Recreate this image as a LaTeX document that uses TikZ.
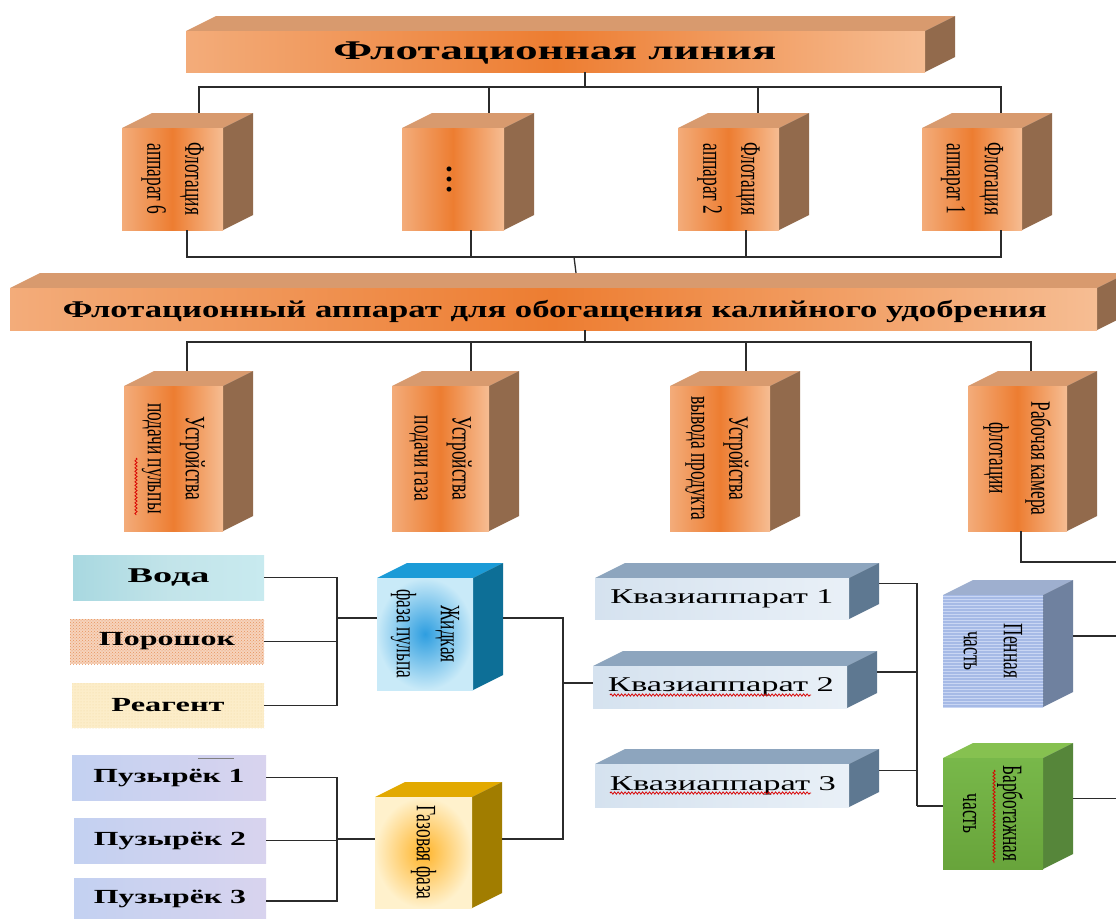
\documentclass[tikz,border=0pt]{standalone}
\usepackage{fontspec}
\usepackage{graphicx}
\setmainfont{Liberation Serif}
\newfontfamily\vfont[FakeStretch=0.62]{Liberation Serif}
\usetikzlibrary{patterns,decorations.pathmorphing}

\definecolor{orL}{HTML}{F3AC7A}
\definecolor{orR}{HTML}{F6BD93}
\definecolor{orM}{HTML}{ED7D31}
\definecolor{orTop}{HTML}{D89A6E}
\definecolor{orSide}{HTML}{926A4C}
\definecolor{lnC}{HTML}{2B2B2B}
\definecolor{zhIn}{HTML}{2E9EE0}
\definecolor{zhOut}{HTML}{C9EAF8}
\definecolor{zhTop}{HTML}{1B9BD7}
\definecolor{zhSide}{HTML}{0D6F97}
\definecolor{gzIn}{HTML}{FFB42A}
\definecolor{gzOut}{HTML}{FFF1CC}
\definecolor{gzTop}{HTML}{E2A900}
\definecolor{gzSide}{HTML}{A17D00}
\definecolor{kvA}{HTML}{D5E2EF}
\definecolor{kvB}{HTML}{E9F0F7}
\definecolor{kvTop}{HTML}{8DA5BE}
\definecolor{kvSide}{HTML}{5E7891}
\definecolor{pnF}{HTML}{A6BAE6}
\definecolor{pnL}{HTML}{C9D6F3}
\definecolor{pnTop}{HTML}{9EAFCF}
\definecolor{pnSide}{HTML}{6F819F}
\definecolor{brA}{HTML}{78B84A}
\definecolor{brB}{HTML}{68A43B}
\definecolor{brTop}{HTML}{86C150}
\definecolor{brSide}{HTML}{56863A}
\definecolor{vdA}{HTML}{A8D8E0}
\definecolor{vdB}{HTML}{C8EAEF}
\definecolor{prF}{HTML}{F6D3BC}
\definecolor{prP}{HTML}{E8945F}
\definecolor{rgF}{HTML}{FCEDC9}
\definecolor{rgP}{HTML}{F1D9A2}
\definecolor{pzA}{HTML}{C3D1F1}
\definecolor{pzB}{HTML}{D8D3EE}

\tikzset{
  conn/.style={draw=lnC, line width=1.3pt},
  wavy/.style={draw=red!85!black, line width=0.8pt, decorate,
    decoration={snake, amplitude=1.1pt, segment length=3.5pt}},
  vtext/.style={rotate=-90, align=center, inner sep=0pt,
    font=\vfont\fontsize{28}{#1}\selectfont},
  vtext/.default=38,
  ofront/.style={left color=orL, right color=orR, middle color=orM},
  flat/.style={inner sep=0pt, outer sep=0pt},
}

% name, x1, y1, x2, y2, front style, top colour, side colour
\newcommand\cuboid[8]{%
  \pgfmathsetmacro\cbw{#4-#2}\pgfmathsetmacro\cbh{#5-#3}%
  \fill[#7] (#2,#3) -- (#2+30,#3-15) -- (#4+30,#3-15) -- (#4,#3) -- cycle;
  \fill[#8] (#4,#3) -- (#4+30,#3-15) -- (#4+30,#5-15) -- (#4,#5) -- cycle;
  \node[inner sep=0pt, outer sep=0pt, minimum width=\cbw pt,
    minimum height=\cbh pt, #6] (#1) at ({(#2+#4)/2},{(#3+#5)/2}) {};
}
% name, x1, y1, x2, y2, style
\newcommand\flatbox[6]{%
  \pgfmathsetmacro\cbw{#4-#2}\pgfmathsetmacro\cbh{#5-#3}%
  \node[flat, minimum width=\cbw pt, minimum height=\cbh pt, #6]
    (#1) at ({(#2+#4)/2},{(#3+#5)/2}) {};
}

\begin{document}
\begin{tikzpicture}[x=1pt,y=-1pt]
\useasboundingbox (0,0) rectangle (1116,918);
\clip (0,0) rectangle (1116,918);
\fill[white] (0,0) rectangle (1116,918);

% ---------- top bar
\cuboid{T}{186}{31}{925}{72}{ofront}{orTop}{orSide}
\node[font=\bfseries\fontsize{27}{27}\selectfont] (Tt) at (555,53)
  {\resizebox{443pt}{\height}{Флотационная линия}};

% ---------- level 1
\cuboid{A}{122}{128}{223}{230}{ofront}{orTop}{orSide}
\cuboid{B}{402}{128}{504}{230}{ofront}{orTop}{orSide}
\cuboid{C}{678}{128}{779}{230}{ofront}{orTop}{orSide}
\cuboid{D}{922}{128}{1022}{230}{ofront}{orTop}{orSide}
\node[vtext] (At) at (A.center) {Флотация\\аппарат 6};
\node[rotate=-90, inner sep=0pt, font=\bfseries\fontsize{30}{30}\selectfont] (Bt) at ([xshift=-3pt]B.center) {…};
\node[vtext] (Ct) at (C.center) {Флотация\\аппарат 2};
\node[vtext] (Dt) at (D.center) {Флотация\\аппарат 1};

% ---------- lower bar
\cuboid{L}{10}{288}{1097}{330}{ofront}{orTop}{orSide}
\node[font=\bfseries\fontsize{24}{24}\selectfont] (Lt) at (555,311)
  {\resizebox{984pt}{\height}{Флотационный аппарат для обогащения калийного удобрения}};

% ---------- level 2
\cuboid{P1}{124}{386}{223}{531}{ofront}{orTop}{orSide}
\cuboid{P2}{392}{386}{489}{531}{ofront}{orTop}{orSide}
\cuboid{P3}{670}{386}{770}{531}{ofront}{orTop}{orSide}
\cuboid{P4}{968}{386}{1067}{531}{ofront}{orTop}{orSide}
\node[vtext] (P1t) at (P1.center) {Устройства\\подачи пульпы};
\node[vtext] (P2t) at (P2.center) {Устройства\\подачи газа};
\node[vtext] (P3t) at ([xshift=-3pt]P3.center) {Устройства\\вывода продукта};
\node[vtext=42] (P4t) at (P4.center) {Рабочая камера\\флотации};

% ---------- components, left
\flatbox{voda}{73}{555}{264}{600}{left color=vdA, right color=vdB, middle color=vdA!70!white}
\flatbox{poro}{70}{619}{264}{664}{preaction={fill=prF}, pattern=crosshatch dots, pattern color=prP}
\flatbox{reag}{72}{683}{264}{728}{preaction={fill=rgF}, pattern=dots, pattern color=rgP}
\flatbox{pz1}{72}{755}{266}{800}{left color=pzA, right color=pzB}
\flatbox{pz2}{74}{818}{266}{863}{left color=pzA, right color=pzB}
\flatbox{pz3}{74}{878}{266}{924}{left color=pzA, right color=pzB}
\node[font=\bfseries\fontsize{21}{21}\selectfont] (vodat) at (voda.center) {\resizebox{82pt}{\height}{Вода}};
\node[font=\bfseries\fontsize{20}{20}\selectfont] (porot) at (poro.center) {\resizebox{136pt}{\height}{Порошок}};
\node[font=\bfseries\fontsize{20}{20}\selectfont] (reagt) at (reag.center) {\resizebox{113pt}{\height}{Реагент}};
\node[font=\bfseries\fontsize{20}{20}\selectfont] (pz1t) at (pz1.center) {\resizebox{151pt}{\height}{Пузырёк 1}};
\node[font=\bfseries\fontsize{20}{20}\selectfont] (pz2t) at (pz2.center) {\resizebox{152pt}{\height}{Пузырёк 2}};
\node[font=\bfseries\fontsize{20}{20}\selectfont] (pz3t) at ([yshift=2pt]pz3.center) {\resizebox{152pt}{\height}{Пузырёк 3}};
\draw[gray, line width=0.6pt] (198,758) -- (234,758);

% ---------- phases
\cuboid{zh}{377}{578}{473}{690}{inner color=zhIn, outer color=zhOut}{zhTop}{zhSide}
\cuboid{gz}{375}{797}{472}{908}{inner color=gzIn, outer color=gzOut}{gzTop}{gzSide}
\node[vtext=44] (zht) at (zh.center) {Жидкая\\фаза пульпа};
\node[vtext] (gzt) at (gz.center) {Газовая фаза};

% ---------- quasi apparatus
\cuboid{kv1}{595}{578}{849}{619}{left color=kvA, right color=kvB}{kvTop}{kvSide}
\cuboid{kv2}{593}{666}{847}{708}{left color=kvA, right color=kvB}{kvTop}{kvSide}
\cuboid{kv3}{595}{764}{849}{807}{left color=kvA, right color=kvB}{kvTop}{kvSide}
\node[font=\fontsize{21}{21}\selectfont] (kv1t) at (kv1.center) {\resizebox{223pt}{\height}{Квазиаппарат 1}};
\node[font=\fontsize{21}{21}\selectfont] (kv2t) at ([xshift=1pt]kv2.center) {\resizebox{226pt}{\height}{Квазиаппарат 2}};
\node[font=\fontsize{21}{21}\selectfont] (kv3t) at ([xshift=1pt]kv3.center) {\resizebox{226pt}{\height}{Квазиаппарат 3}};

% ---------- parts
\cuboid{pn}{943}{595}{1043}{707}{preaction={fill=pnF}, pattern=horizontal lines, pattern color=pnL}{pnTop}{pnSide}
\cuboid{br}{943}{758}{1043}{869}{top color=brA, bottom color=brB}{brTop}{brSide}
\node[vtext=40] (pnt) at (pn.center) {Пенная\\часть};
\node[vtext=40] (brt) at (br.center) {Барботажная\\часть};

% ---------- spell-check marks
\draw[wavy] (136,458) -- (136,515);
\draw[wavy] (610,695) -- (811,695);
\draw[wavy] (610,793) -- (811,793);
\draw[wavy] (994,770) -- (994,863);

% ---------- connectors, top
\coordinate (b1) at (585,87);
\draw[conn] (b1 |- T.south) -- (b1);
\draw[conn] (b1) -| ([xshift=26.5pt,yshift=15pt]A.north);
\draw[conn] (b1) -| ([xshift=36pt,yshift=15pt]B.north);
\draw[conn] (b1) -| ([xshift=29.5pt,yshift=15pt]C.north);
\draw[conn] (b1) -| ([xshift=29pt,yshift=15pt]D.north);
\coordinate (b2) at (574,257);
\draw[conn] ([xshift=14.5pt]A.south) |- (b2);
\draw[conn] ([xshift=18pt]B.south) |- (b2);
\draw[conn] ([xshift=17.5pt]C.south) |- (b2);
\draw[conn] ([xshift=29pt]D.south) |- (b2);
\draw[conn] (b2) -- ([xshift=22.5pt,yshift=15pt]L.north);
\coordinate (b3) at (585,342);
\draw[conn] (b3 |- L.south) -- (b3);
\draw[conn] (b3) -| ([xshift=13.5pt,yshift=15pt]P1.north);
\draw[conn] (b3) -| ([xshift=30.5pt,yshift=15pt]P2.north);
\draw[conn] (b3) -| ([xshift=26pt,yshift=15pt]P3.north);
\draw[conn] (b3) -| ([xshift=13.5pt,yshift=15pt]P4.north);
\coordinate (rkend) at (1116,562);
\draw[conn] ([xshift=3.5pt]P4.south) |- (rkend);

% ---------- connectors, bottom left
\coordinate (bl) at (337,618);
\draw[conn] (voda.east) -| (reag.east -| bl) -- (reag.east);
\draw[conn] (poro.east) -- (poro.east -| bl);
\draw[conn] (bl) -- (bl -| zh.west);
\coordinate (bg) at (337,839);
\draw[conn] (pz1.east) -| (pz3.east -| bg) -- (pz3.east);
\draw[conn] (pz2.east) -- (pz2.east -| bg);
\draw[conn] (bg) -- (bg -| gz.west);
\coordinate (jq) at (563,683);
\draw[conn] ([xshift=30pt]zh.east |- bl) -| (jq);
\draw[conn] ([xshift=30pt]gz.east |- bg) -| (jq);
\draw[conn] (jq) -- (jq -| kv2.west);

% ---------- connectors, bottom right
\coordinate (jb) at (917,806);
\draw[conn] ([shift={(30pt,15pt)}]kv1.east) -| (jb);
\draw[conn] ([shift={(30pt,15pt)}]kv2.east) coordinate (k2o) -- (k2o -| jb);
\draw[conn] ([shift={(30pt,15pt)}]kv3.east) coordinate (k3o) -- (k3o -| jb);
\draw[conn] (jb) -- (jb -| br.west);
\draw[conn] ([shift={(30pt,15pt)}]pn.east) -- ++(60,0);
\draw[conn] ([shift={(30pt,15pt)}]br.east) -- ++(60,0);
\end{tikzpicture}
\end{document}
